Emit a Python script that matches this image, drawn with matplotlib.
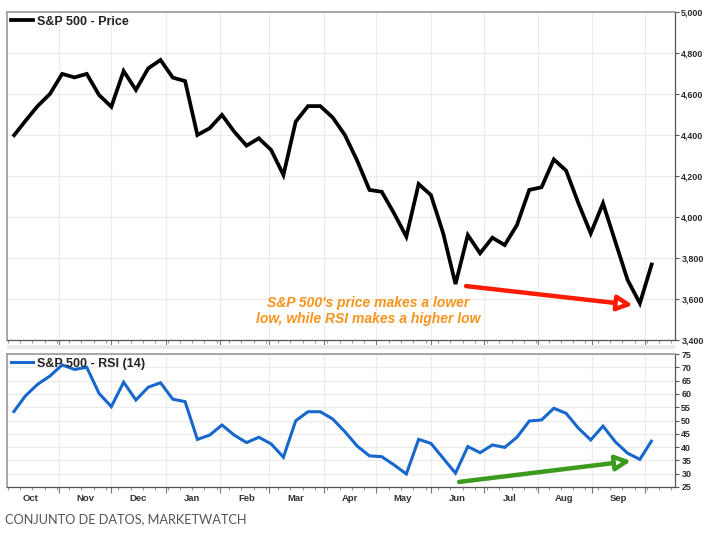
import matplotlib
matplotlib.use('Agg')
import matplotlib.pyplot as plt
import matplotlib.dates as mdates
import matplotlib.ticker as mticker
import pandas as pd
from matplotlib.patches import Rectangle

# ---------------- data ----------------
dates = pd.date_range('2021-10-06', periods=53, freq='7D')
price = [4392, 4468, 4541, 4600, 4698, 4681, 4698, 4595, 4538, 4712,
         4620, 4725, 4766, 4680, 4663, 4400, 4433, 4498, 4416, 4348,
         4384, 4327, 4205, 4465, 4541, 4541, 4486, 4400, 4275, 4132,
         4123, 4018, 3904, 4161, 4107, 3920, 3673, 3912, 3823, 3899,
         3863, 3961, 4132, 4145, 4281, 4226, 4067, 3920, 4067, 3880,
         3693, 3579, 3777]
rsi = [52.9, 59.2, 63.6, 66.7, 70.9, 69.2, 70.0, 60.2, 55.2, 64.4,
       57.7, 62.5, 64.2, 58.0, 57.1, 42.9, 44.5, 48.3, 44.5, 41.7,
       43.7, 41.2, 36.2, 49.9, 53.3, 53.3, 50.6, 45.8, 40.4, 36.7,
       36.4, 33.3, 29.9, 42.9, 41.4, 35.8, 30.2, 40.2, 37.9, 40.8,
       39.9, 43.7, 49.8, 50.2, 54.6, 52.7, 47.1, 42.7, 47.9, 42.0,
       37.7, 35.4, 42.7]
month_labels = ['Oct', 'Nov', 'Dec', 'Jan', 'Feb', 'Mar', 'Apr', 'May',
                'Jun', 'Jul', 'Aug', 'Sep']
month_label_dates = pd.date_range('2021-10-16', periods=12, freq=pd.DateOffset(months=1))
price_ticks = list(range(3400, 5001, 200))
rsi_ticks = list(range(25, 76, 5))

price_label = 'S&P 500 - Price'
rsi_label = 'S&P 500 - RSI (14)'
note = "S&P 500's price makes a lower\nlow, while RSI makes a higher low"
source = 'CONJUNTO DE DATOS, MARKETWATCH'

plt.rcParams['font.family'] = ['Liberation Sans', 'DejaVu Sans']

W, H = 713, 535
fig = plt.figure(figsize=(W / 100, H / 100), dpi=100)
fig.patch.set_facecolor('white')

def fx(px):
    return px / W

def fy(py):
    return 1 - py / H

ax1 = fig.add_axes([fx(7), fy(340), fx(668), 328 / H])
ax2 = fig.add_axes([fx(7), fy(487), fx(668), 133 / H])

xmin = pd.Timestamp('2021-10-02 14:00')
xmax = pd.Timestamp('2022-10-18')

grid_c = '#ececec'
for ax, ticks in ((ax1, price_ticks), (ax2, rsi_ticks)):
    ax.set_xlim(xmin, xmax)
    ax.set_ylim(ticks[0], ticks[-1])
    ax.yaxis.tick_right()
    ax.set_yticks(ticks)
    ax.xaxis.set_major_locator(mdates.MonthLocator())
    ax.xaxis.set_minor_locator(mdates.WeekdayLocator(byweekday=mdates.SU))
    ax.xaxis.set_major_formatter(mticker.NullFormatter())
    ax.tick_params(axis='x', which='major', length=4, width=0.8, color='#777', direction='out')
    ax.tick_params(axis='x', which='minor', length=2, width=0.8, color='#999', direction='out')
    ax.tick_params(axis='y', which='major', length=3, width=0.8, color='#555',
                   labelsize=6.4, labelcolor='#2a2a2a', pad=1.5)
    for t in ax.get_yticklabels():
        t.set_fontweight('bold')
    ax.grid(True, which='major', axis='both', color=grid_c, lw=0.9)
    ax.set_axisbelow(True)
    for s in ('left', 'top'):
        ax.spines[s].set_color('#9a9a9a')
        ax.spines[s].set_linewidth(1.2)
    for s in ('right', 'bottom'):
        ax.spines[s].set_color('#555555')
        ax.spines[s].set_linewidth(0.9)

ax1.yaxis.set_major_formatter(mticker.FuncFormatter(lambda v, p: f'{int(v):,}'))
for ax in (ax1, ax2):
    for t in ax.get_yticklabels():
        t.set_fontweight('bold')

ax1.plot(dates, price, color='black', lw=2.7, solid_joinstyle='miter', solid_capstyle='butt')
ax2.plot(dates, rsi, color='#1767cc', lw=2.2, solid_joinstyle='miter', solid_capstyle='butt')

# legends
for ax, lab, col, lw in ((ax1, price_label, 'black', 2.7), (ax2, rsi_label, '#1767cc', 2.2)):
    leg = ax.legend([plt.Line2D([], [], color=col, lw=lw)], [lab], loc='upper left',
                    frameon=False, handlelength=1.75, handletextpad=0.35,
                    borderaxespad=0.0, borderpad=0.3,
                    prop={'weight': 'bold', 'size': 9})
    for t in leg.get_texts():
        t.set_color('#222222')

# month labels
for d, m in zip(month_label_dates, month_labels):
    ax2.text(d, -0.085, m, transform=ax2.get_xaxis_transform(), ha='center', va='center',
             fontsize=6.8, fontweight='bold', color='#333333')

# annotation text
ax1.text(pd.Timestamp('2022-04-26'), 3540, note, ha='center', va='center',
         fontsize=10, fontweight='bold', fontstyle='italic', color='#f7941d',
         linespacing=1.15)

# arrows
ax1.annotate('', xy=(pd.Timestamp('2022-09-24'), 3571), xytext=(pd.Timestamp('2022-06-21'), 3663),
             arrowprops=dict(arrowstyle='-|>,head_length=0.9,head_width=0.45', lw=3.2,
                             ec='#ff1a00', fc='white', shrinkA=0, shrinkB=0, mutation_scale=10))
ax2.annotate('', xy=(pd.Timestamp('2022-09-23'), 34.8), xytext=(pd.Timestamp('2022-06-17'), 26.9),
             arrowprops=dict(arrowstyle='-|>,head_length=0.9,head_width=0.45', lw=3.2,
                             ec='#3c9a1c', fc='white', shrinkA=0, shrinkB=0, mutation_scale=10),
             annotation_clip=False)

# separator strip between panels
fig.patches.append(Rectangle((fx(7), fy(349)), fx(668), 4 / H, transform=fig.transFigure,
                             facecolor='#e9e9e9', edgecolor='none', zorder=0))

fig.text(fx(5), fy(519), source, ha='left', va='center', fontsize=9.2,
         color='#555555', family=['Lato', 'DejaVu Sans'])

fig.savefig('out.png', dpi=100, facecolor='white')
